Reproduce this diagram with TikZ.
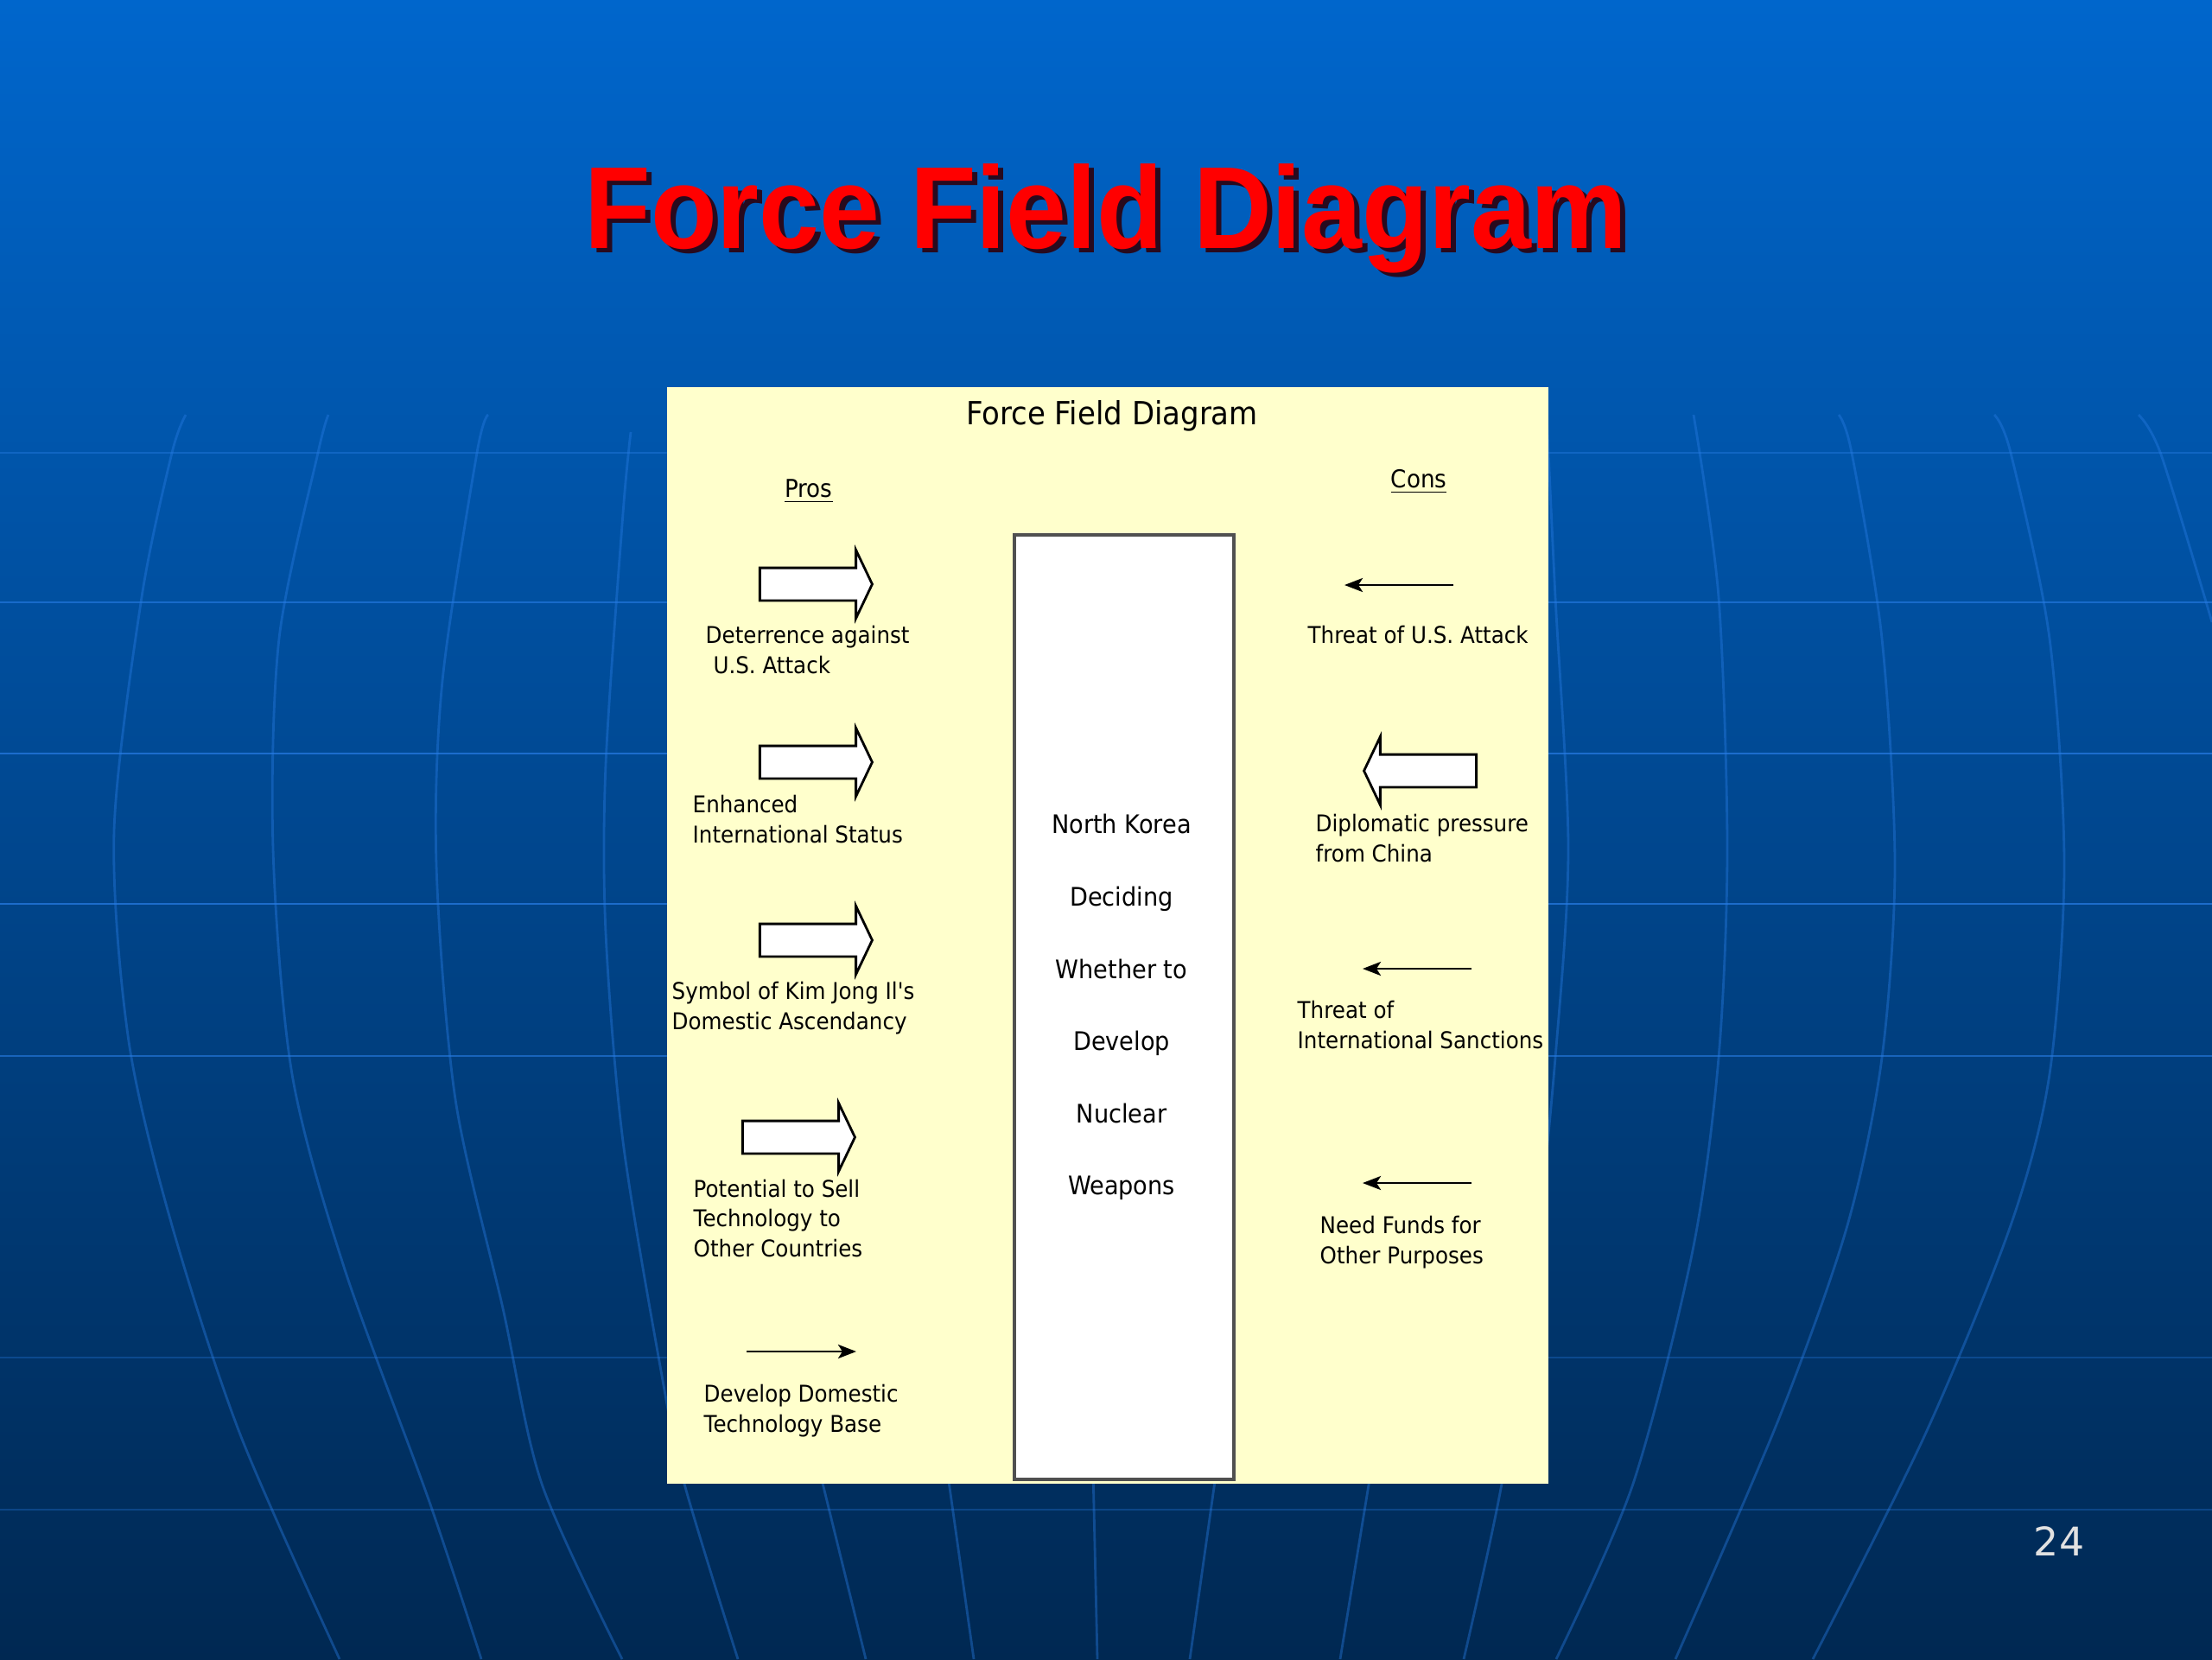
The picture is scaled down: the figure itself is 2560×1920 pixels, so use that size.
\documentclass[tikz,border=0pt]{standalone}
\usepackage{fontspec}
\setmainfont{DejaVu Sans}
\newfontfamily\slidefont[FakeStretch=0.93]{Liberation Sans}
\newfontfamily\chartfont[FakeStretch=0.92]{DejaVu Sans}
\usepackage{tikz}
\usetikzlibrary{shapes,arrows,arrows.meta}

\definecolor{slidetop}{RGB}{0,102,204}
\definecolor{slidemid}{RGB}{0,68,138}
\definecolor{slidebot}{RGB}{0,40,82}
\definecolor{gridblue}{RGB}{40,125,230}
\definecolor{titlered}{RGB}{255,0,0}
\definecolor{titleshadow}{RGB}{40,10,30}
\definecolor{panelyellow}{RGB}{255,255,204}
\definecolor{boxgray}{RGB}{80,80,80}
\definecolor{pagegray}{RGB}{225,225,225}

\begin{document}
\begin{tikzpicture}[x=0.01cm, y=-0.01cm,
    globeline/.style={draw=gridblue, line width=0.8pt, opacity=0.4},
    slidetitle/.style={font=\slidefont\bfseries\fontsize{38.4}{44}\selectfont, anchor=base, inner sep=0pt},
    lbl/.style={font=\chartfont\fontsize{7.6}{9.9}\selectfont, align=left, anchor=west, inner sep=0pt},
    hdr/.style={font=\chartfont\fontsize{8.1}{9.9}\selectfont, anchor=base, inner sep=0pt},
    word/.style={font=\chartfont\fontsize{8.4}{10}\selectfont, anchor=base, inner sep=0pt},
    fat/.style={single arrow, draw=black, fill=white, line width=0.8pt, inner xsep=0pt, inner ysep=0.175cm,
        minimum height=1.3cm, single arrow head extend=0.205cm, single arrow tip angle=129, anchor=tip},
    pull/.style={line width=0.8pt, -{Stealth[length=2.1mm,width=1.6mm,inset=0.5mm]}}]
    \useasboundingbox (0,0) rectangle (2560,1920);
    \shade[top color=slidetop, middle color=slidemid, bottom color=slidebot] (0,0) rectangle (2560,1920);

    % globe grid behind the slide
    \foreach \yy/\op in {524/0.4, 697/0.6, 872/0.7, 1046/0.7, 1222/0.6, 1571/0.3, 1747/0.3}
        \draw[globeline, opacity=\op] (0,\yy) -- (2560,\yy);
    \draw[globeline] plot[smooth] coordinates {(215,480) (199,524) (164,691) (132,962) (149,1205) (199,1418) (278,1660) (393,1920)};
    \draw[globeline] plot[smooth] coordinates {(380,480) (368,524) (323,739) (316,982) (338,1243) (398,1466) (497,1738) (557,1920)};
    \draw[globeline] plot[smooth] coordinates {(565,480) (552,524) (512,788) (505,1001) (527,1272) (582,1514) (627,1717) (720,1920)};
    \draw[globeline] plot[smooth] coordinates {(730,500) (721,594) (701,885) (701,1079) (721,1321) (766,1592) (792,1717) (854,1920)};
    \draw[globeline] plot[smooth] coordinates {(1790,480) (1800,691) (1815,982) (1800,1224) (1775,1470) (1738,1717) (1694,1920)};
    \draw[globeline] plot[smooth] coordinates {(1960,480) (1989,691) (1999,982) (1989,1224) (1959,1447) (1890,1717) (1801,1920)};
    \draw[globeline] plot[smooth] coordinates {(2128,480) (2143,524) (2178,739) (2193,1001) (2178,1224) (2138,1418) (2059,1641) (1939,1920)};
    \draw[globeline] plot[smooth] coordinates {(2308,480) (2327,524) (2372,739) (2389,1001) (2372,1243) (2327,1418) (2228,1660) (2098,1920)};
    \draw[globeline] plot[smooth] coordinates {(2475,480) (2501,526) (2560,720)};
    \foreach \xa/\xb in {948/1002, 1096/1127, 1265/1270, 1408/1377, 1587/1551}
        \draw[globeline] (\xa,1700) -- (\xb,1920);

    % slide title
    \node[slidetitle, text=titleshadow] (titleshade) at (1286,292) {Force Field Diagram};
    \node[slidetitle, text=titlered] (title) at (1280,287) {Force Field Diagram};

    % the chart
    \node[fill=panelyellow, minimum width=10.2cm, minimum height=12.69cm, anchor=north west, inner sep=0pt] (panel) at (771,447) {};
    \node[draw=boxgray, fill=white, line width=1.1pt, minimum width=2.54cm, minimum height=10.92cm, anchor=north west, inner sep=0pt] (decision) at (1172,617) {};
    \node[font=\chartfont\fontsize{10.5}{12}\selectfont, anchor=base, inner sep=0pt] (charttitle) at (1287,491) {Force Field Diagram};
    \node[hdr] (pros) at (936,575) {\underline{Pros}};
    \node[hdr] (cons) at (1642,564) {\underline{Cons}};

    \foreach \w/\yy [count=\i] in {North Korea/964, Deciding/1048, Whether to/1132, Develop/1215, Nuclear/1299, Weapons/1382}
        \node[word] (word\i) at (1298,\yy) {\w};

    % Pros
    \node[fat] (pro1) at (1011,676) {};
    \node[lbl] (pro1txt) at (816,752) {Deterrence against\\\hspace*{2.5pt}U.S. Attack};
    \node[fat] (pro2) at (1011,882) {};
    \node[lbl] (pro2txt) at (801,948) {Enhanced\\International Status};
    \node[fat] (pro3) at (1011,1088) {};
    \node[lbl] (pro3txt) at (777,1167) {Symbol of Kim Jong Il's\\Domestic Ascendancy};
    \node[fat] (pro4) at (991,1316) {};
    \node[lbl] (pro4txt) at (802,1410) {Potential to Sell\\Technology to\\Other Countries};
    \coordinate (pro5a) at (864,1564);
    \coordinate (pro5b) at (991,1564);
    \draw[pull] (pro5a) -- (pro5b);
    \node[lbl] (pro5txt) at (814,1633) {Develop Domestic\\Technology Base};

    % Cons
    \coordinate (con1a) at (1682,677);
    \coordinate (con1b) at (1556,677);
    \draw[pull] (con1a) -- (con1b);
    \node[lbl] (con1txt) at (1513,735) {Threat of U.S. Attack};
    \node[fat, shape border rotate=180] (con2) at (1577,892) {};
    \node[lbl] (con2txt) at (1522,970) {Diplomatic pressure\\from China};
    \coordinate (con3a) at (1703,1121);
    \coordinate (con3b) at (1577,1121);
    \draw[pull] (con3a) -- (con3b);
    \node[lbl] (con3txt) at (1501,1186) {Threat of\\International Sanctions};
    \coordinate (con4a) at (1703,1369);
    \coordinate (con4b) at (1577,1369);
    \draw[pull] (con4a) -- (con4b);
    \node[lbl] (con4txt) at (1527,1438) {Need Funds for\\Other Purposes};

    \node[font=\fontsize{13}{15}\selectfont, text=pagegray, inner sep=0pt] (pagenum) at (2383,1784) {24};
\end{tikzpicture}
\end{document}
